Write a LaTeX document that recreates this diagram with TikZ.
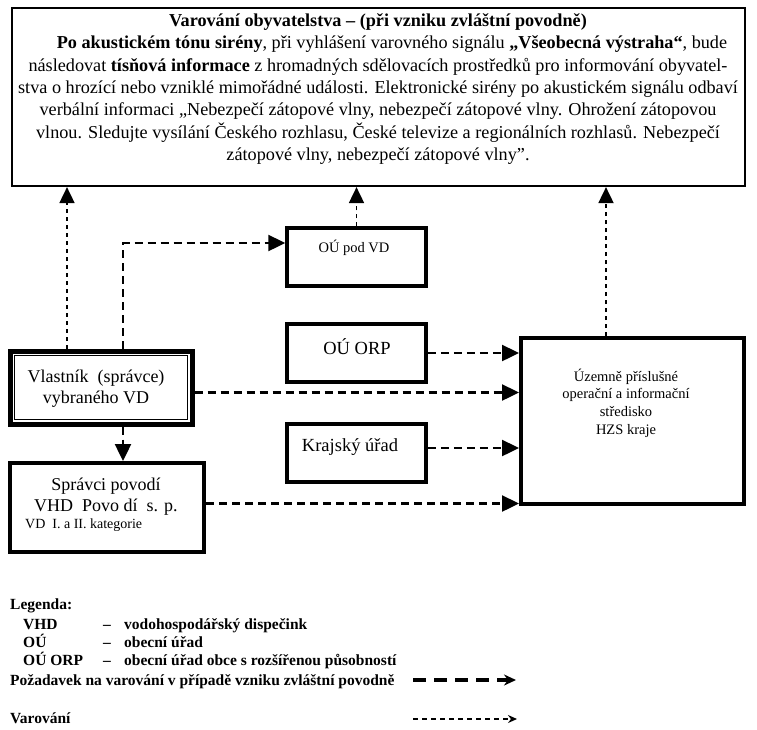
\documentclass[tikz,border=0pt]{standalone}
\usepackage{fontspec}
\setmainfont{Liberation Serif}
\usetikzlibrary{arrows.meta}

\begin{document}
\begin{tikzpicture}[
  x=1pt, y=-1pt,
  box/.style={draw, line width=3.5pt, inner sep=0pt},
  req/.style={line width=2.4pt, dash pattern=on 8pt off 5pt, -{Triangle[length=17pt,width=16pt]}},
  warn/.style={line width=1.8pt, dash pattern=on 4pt off 4pt, -{Triangle[length=16pt,width=15pt]}},
  big/.style={font=\fontsize{18.5}{22.3}\selectfont},
  small/.style={font=\fontsize{14.5}{17.7}\selectfont},
  leg/.style={anchor=base west, inner sep=0pt, font=\fontsize{15.5}{18}\selectfont\bfseries},
]
\useasboundingbox (0,0) rectangle (757,729);

% top box with the warning text
\node [draw, line width=2.2pt, minimum width=733pt, minimum height=178pt] (top) at (378.5,97) {};
\node [align=center, inner sep=0pt, font=\fontsize{18.2}{22.3}\selectfont] (toptext) at (378,89) {%
  \textbf{Varování obyvatelstva – (při vzniku zvláštní povodně)}\\
  \hspace*{28pt}\textbf{Po akustickém tónu sirény}, při vyhlášení varovného signálu \textbf{„Všeobecná výstraha“}, bude\\
  následovat \textbf{tísňová informace} z hromadných sdělovacích prostředků pro informování obyvatel-\\
  stva o hrozící nebo vzniklé mimořádné události. Elektronické sirény po akustickém signálu odbaví\\
  verbální informaci „Nebezpečí zátopové vlny, nebezpečí zátopové vlny. Ohrožení zátopovou\\
  vlnou. Sledujte vysílání Českého rozhlasu, České televize a regionálních rozhlasů. Nebezpečí\\
  zátopové vlny, nebezpečí zátopové vlny”.};

% boxes
\node [box, minimum width=139pt, minimum height=58pt] (oupod) at (356.5,257) {};
\node [small] (oupodtext) at (354,248) {OÚ pod VD};

\node [box, minimum width=139pt, minimum height=58pt] (ouorp) at (356.5,353) {};
\node [big] (ouorptext) at (357,347) {OÚ ORP};

\node [box, minimum width=139pt, minimum height=58pt] (kraj) at (356.5,453) {};
\node [big] (krajtext) at (350,447) {Krajský úřad};

\node [box, line width=4pt, minimum width=223pt, minimum height=166pt] (hzs) at (632.5,421) {};
\node [small, align=center] (hzstext) at (626,403) {Územně příslušné\\operační a informační\\středisko\\HZS kraje};

\node [box, line width=5pt, minimum width=182pt, minimum height=73pt] (vlast) at (101,387.5) {};
\draw [line width=1.6pt] ([shift={(7,7)}]vlast.north west) rectangle ([shift={(-7,-7)}]vlast.south east);
\node [align=center, font=\fontsize{18}{21}\selectfont] (vlasttext) at (96,389) {Vlastník\ \ (správce)\\vybraného VD};

\node [box, line width=4pt, minimum width=194pt, minimum height=89pt] (spravci) at (107,507.5) {};
\node [align=center, font=\fontsize{18}{21}\selectfont] (spravcitext) at (106,497) {Správci povodí\\VHD\ \ Povo dí\ \ s. p.};
\node [anchor=west, inner sep=0pt, font=\fontsize{14}{17}\selectfont] (kategorie) at (25,525) {VD\ \ I. a II. kategorie};

% warning lines
\coordinate (wl) at (67,0);
\coordinate (wr) at (606,0);
\draw [warn] (vlast.north -| wl) -- (top.south -| wl);
\draw [warn] (oupod.north) -- (oupod.north |- top.south);
\draw [warn] (hzs.north -| wr) -- (top.south -| wr);

% request lines
\coordinate (vd) at (123,243);
\draw [req] (vlast.north -| vd) -- (vd) -- (vd -| oupod.west);
\draw [req] (vlast.south -| vd) -- (spravci.north -| vd);
\draw [req] (ouorp.east) -- (ouorp.east -| hzs.west);
\draw [req] ([yshift=-5pt]vlast.east) -- ([yshift=-5pt]vlast.east -| hzs.west);
\draw [req] ([yshift=5pt]kraj.east) -- ([yshift=5pt]kraj.east -| hzs.west);
\draw [req] ([yshift=4pt]spravci.east) -- ([yshift=4pt]spravci.east -| hzs.west);

% legend
\node [leg] (legenda) at (10,609) {Legenda:};
\node [leg] (vhd) at (23,629) {VHD};
\node [leg] (vhdd) at (103,629) {–};
\node [leg] (vhdt) at (124,629) {vodohospodářský dispečink};
\node [leg] (ou) at (23,647) {OÚ};
\node [leg] (oud) at (103,647) {–};
\node [leg] (out) at (124,647) {obecní úřad};
\node [leg] (orp) at (23,665) {OÚ ORP};
\node [leg] (orpd) at (103,665) {–};
\node [leg] (orpt) at (124,665) {obecní úřad obce s rozšířenou působností};
\node [leg] (lreq) at (10,685) {Požadavek na varování v případě vzniku zvláštní povodně};
\node [leg] (lwarn) at (10,723) {Varování};

\coordinate (lreqA) at (413,680);
\coordinate (lreqB) at (516,680);
\coordinate (lwarnA) at (413,719);
\coordinate (lwarnB) at (517,719);
\draw [line width=4pt, dash pattern=on 13pt off 8pt, -{Stealth[length=12pt,width=11pt]}] (lreqA) -- (lreqB);
\draw [line width=1.8pt, dash pattern=on 5pt off 4pt, -{Stealth[length=9pt,width=8pt]}] (lwarnA) -- (lwarnB);

\end{tikzpicture}
\end{document}
